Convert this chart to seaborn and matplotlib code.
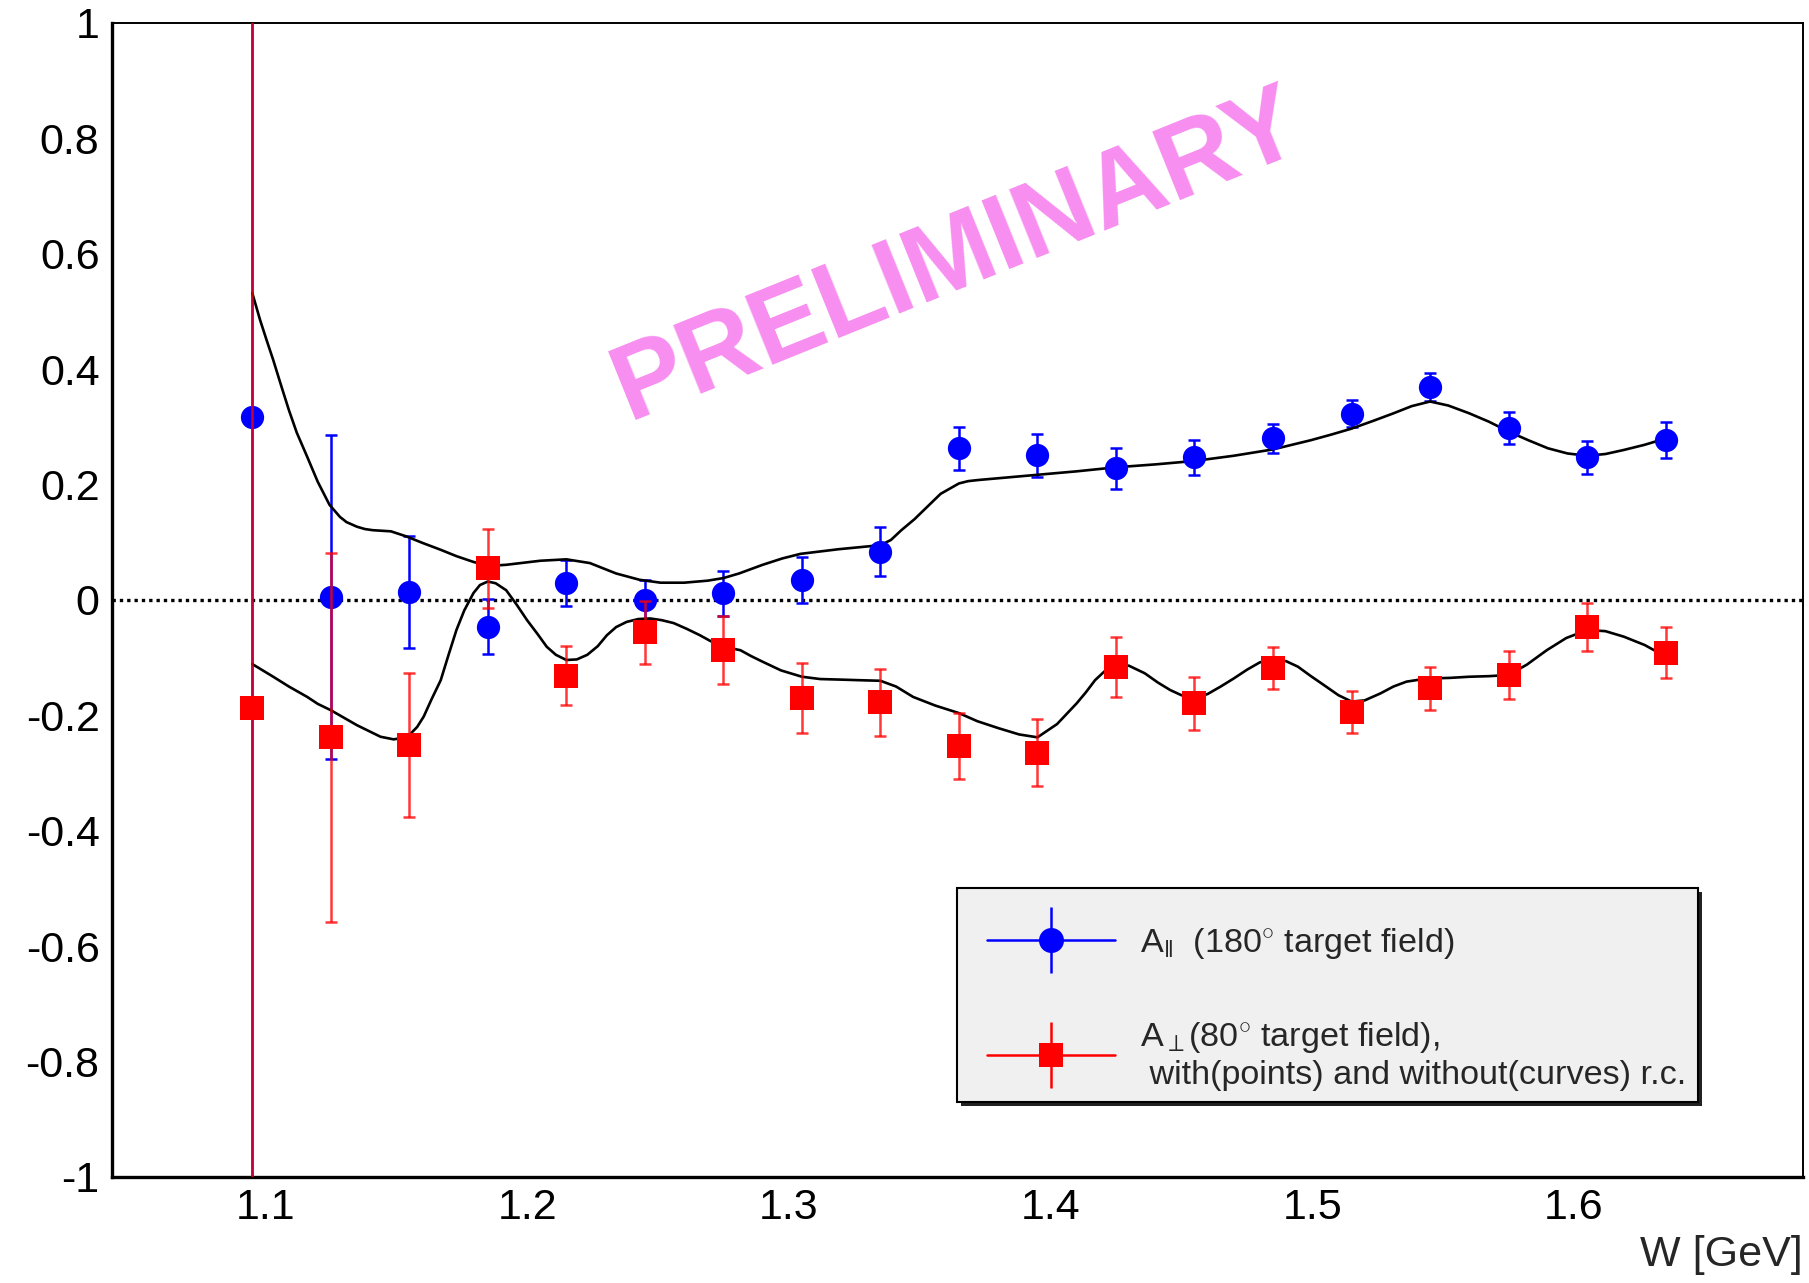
import numpy as np
import pandas as pd
import matplotlib
matplotlib.use("Agg")
import matplotlib.pyplot as plt
from matplotlib.lines import Line2D
from matplotlib.patches import Rectangle
from matplotlib.legend_handler import HandlerTuple
from matplotlib.ticker import FixedLocator, MultipleLocator, FuncFormatter
import seaborn as sns

# ---------------- data ----------------
W = [1.095, 1.125, 1.155, 1.185, 1.215, 1.245, 1.275, 1.305, 1.335, 1.365,
     1.395, 1.425, 1.455, 1.485, 1.515, 1.545, 1.575, 1.605, 1.635]

A_par = [0.318, 0.005, 0.014, -0.046, 0.029, 0.000, 0.012, 0.035, 0.084, 0.263,
         0.251, 0.228, 0.247, 0.280, 0.323, 0.369, 0.298, 0.247, 0.277]
A_par_err = [1.5, 0.281, 0.097, 0.048, 0.040, 0.035, 0.039, 0.040, 0.043, 0.037,
             0.037, 0.035, 0.030, 0.025, 0.024, 0.024, 0.027, 0.029, 0.031]

A_perp = [-0.188, -0.238, -0.251, 0.055, -0.131, -0.056, -0.087, -0.170, -0.177, -0.253,
          -0.265, -0.116, -0.179, -0.118, -0.194, -0.153, -0.130, -0.047, -0.091]
A_perp_err = [1.5, 0.320, 0.125, 0.068, 0.051, 0.055, 0.059, 0.060, 0.058, 0.058,
              0.058, 0.052, 0.046, 0.037, 0.036, 0.037, 0.042, 0.041, 0.045]

# curves without radiative corrections
curve_par_W = [1.095, 1.098, 1.1005, 1.103, 1.106, 1.109, 1.112, 1.116, 1.120, 1.1245,
               1.1285, 1.131, 1.135, 1.138, 1.141, 1.148, 1.154, 1.160, 1.167, 1.173,
               1.1795, 1.185, 1.192, 1.205, 1.215, 1.224, 1.234, 1.243, 1.251, 1.260,
               1.269, 1.275, 1.281, 1.290, 1.2975, 1.3045, 1.319, 1.335, 1.339, 1.343,
               1.348, 1.353, 1.358, 1.365, 1.3685, 1.3725, 1.380, 1.395, 1.410, 1.425,
               1.440, 1.455, 1.470, 1.485, 1.4995, 1.5075, 1.515, 1.523, 1.531, 1.538,
               1.545, 1.552, 1.560, 1.5675, 1.575, 1.5825, 1.590, 1.5975, 1.605, 1.612,
               1.619, 1.627, 1.635]
curve_par_A = [0.532, 0.485, 0.450, 0.416, 0.372, 0.329, 0.290, 0.248, 0.205, 0.165,
               0.144, 0.135, 0.127, 0.123, 0.121, 0.119, 0.110, 0.099, 0.087, 0.076,
               0.066, 0.059, 0.061, 0.068, 0.0705, 0.064, 0.046, 0.035, 0.030, 0.030,
               0.0335, 0.038, 0.046, 0.061, 0.072, 0.080, 0.088, 0.095, 0.104, 0.121,
               0.140, 0.162, 0.184, 0.202, 0.206, 0.208, 0.211, 0.217, 0.223, 0.230,
               0.235, 0.241, 0.250, 0.261, 0.277, 0.287, 0.297, 0.310, 0.3235, 0.336,
               0.344, 0.337, 0.3235, 0.309, 0.292, 0.277, 0.263, 0.254, 0.250, 0.253,
               0.260, 0.269, 0.280]

curve_perp_W = [1.095, 1.099, 1.103, 1.109, 1.116, 1.120, 1.125, 1.130, 1.135, 1.144,
                1.149, 1.1525, 1.155, 1.158, 1.1605, 1.1635, 1.167, 1.170, 1.173, 1.176,
                1.1795, 1.182, 1.185, 1.188, 1.192, 1.196, 1.200, 1.204, 1.2075, 1.211,
                1.215, 1.219, 1.223, 1.227, 1.2305, 1.234, 1.238, 1.2425, 1.247, 1.2515,
                1.256, 1.261, 1.266, 1.270, 1.275, 1.2815, 1.2855, 1.290, 1.297, 1.305,
                1.312, 1.320, 1.327, 1.335, 1.341, 1.3475, 1.356, 1.365, 1.372, 1.380,
                1.388, 1.395, 1.4025, 1.410, 1.4135, 1.417, 1.421, 1.425, 1.430, 1.436,
                1.441, 1.4457, 1.450, 1.455, 1.460, 1.465, 1.470, 1.475, 1.480, 1.485,
                1.490, 1.4945, 1.4995, 1.5043, 1.510, 1.515, 1.520, 1.526, 1.531, 1.536,
                1.541, 1.545, 1.5525, 1.560, 1.5675, 1.575, 1.582, 1.5896, 1.597, 1.605,
                1.612, 1.619, 1.627, 1.635]
curve_perp_A = [-0.111, -0.122, -0.133, -0.150, -0.168, -0.180, -0.191, -0.204, -0.217, -0.237,
                -0.2415, -0.239, -0.234, -0.220, -0.202, -0.172, -0.139, -0.095, -0.052, -0.018,
                0.012, 0.026, 0.032, 0.029, 0.017, -0.008, -0.035, -0.059, -0.081, -0.095,
                -0.104, -0.103, -0.095, -0.080, -0.061, -0.047, -0.038, -0.033, -0.032, -0.035,
                -0.040, -0.050, -0.061, -0.071, -0.081, -0.087, -0.097, -0.107, -0.122, -0.133,
                -0.137, -0.138, -0.139, -0.140, -0.150, -0.168, -0.183, -0.196, -0.210, -0.222,
                -0.233, -0.238, -0.215, -0.179, -0.160, -0.139, -0.122, -0.110, -0.114, -0.127,
                -0.143, -0.156, -0.165, -0.170, -0.163, -0.150, -0.136, -0.121, -0.108, -0.104,
                -0.106, -0.1155, -0.132, -0.147, -0.165, -0.176, -0.174, -0.162, -0.150, -0.1415,
                -0.138, -0.136, -0.135, -0.133, -0.132, -0.130, -0.112, -0.087, -0.066, -0.052,
                -0.054, -0.0635, -0.078, -0.098]

x_major_ticks = [1.1, 1.2, 1.3, 1.4, 1.5, 1.6]
y_major_ticks = [-1.0, -0.8, -0.6, -0.4, -0.2, 0.0, 0.2, 0.4, 0.6, 0.8, 1.0]

legend_labels = [r"A$_{\Vert}$  (180$^{\circ}$ target field)",
                 "A$_{\\perp}$(80$^{\\circ}$ target field),\n with(points) and without(curves) r.c."]
x_label = "W [GeV]"
watermark = "PRELIMINARY"

# ---------------- style ----------------
sns.set_theme(style="white")
plt.rcParams['font.family'] = ['Liberation Sans', 'DejaVu Sans']
plt.rcParams['axes.unicode_minus'] = False
plt.rcParams['mathtext.fontset'] = 'custom'
plt.rcParams['mathtext.rm'] = 'Liberation Sans'
plt.rcParams['mathtext.it'] = 'Liberation Sans:italic'
plt.rcParams['mathtext.bf'] = 'Liberation Sans:bold'

BLUE = '#0000ff'
RED = '#ff0000'

FW, FH = 1809, 1283
fig = plt.figure(figsize=(FW / 100, FH / 100), dpi=100)
fig.patch.set_facecolor('white')
ax_l, ax_r, ax_t, ax_b = 112, 1803, 23, 1177
ax = fig.add_axes([ax_l / FW, 1 - ax_b / FH, (ax_r - ax_l) / FW, (ax_b - ax_t) / FH])
ax.set_facecolor('white')

# zero line
ax.axhline(0, color='black', lw=2.4, ls=(0, (1, 1.2)), zorder=1.5)

# A_parallel
ax.errorbar(W, A_par, yerr=A_par_err, fmt='none', ecolor=BLUE, elinewidth=1.8,
            capsize=4.3, capthick=1.8, zorder=2)
# curves
sns.lineplot(x=curve_par_W, y=curve_par_A, color='black', lw=1.9, sort=False,
             estimator=None, ax=ax, zorder=3, solid_joinstyle='round')
sns.lineplot(x=curve_perp_W, y=curve_perp_A, color='black', lw=1.9, sort=False,
             estimator=None, ax=ax, zorder=3, solid_joinstyle='round')
sns.scatterplot(x=W, y=A_par, marker='o', s=280, color=BLUE, linewidth=0, ax=ax, zorder=4)
# A_perp
ax.errorbar(W, A_perp, yerr=A_perp_err, fmt='none', ecolor=(1, 0, 0, 0.78), elinewidth=1.8,
            capsize=4.3, capthick=1.8, zorder=5)
sns.scatterplot(x=W, y=A_perp, marker='s', s=280, color=RED, linewidth=0, ax=ax, zorder=6)

# axes
ax.set_xlim(1.0414, 1.6875)
ax.set_ylim(-1, 1)
ax.xaxis.set_major_locator(FixedLocator(x_major_ticks))
ax.xaxis.set_minor_locator(MultipleLocator(0.02))
ax.yaxis.set_major_locator(FixedLocator(y_major_ticks))
ax.yaxis.set_minor_locator(MultipleLocator(0.05))
fmt = FuncFormatter(lambda v, p: f"{v:g}")
ax.xaxis.set_major_formatter(fmt)
ax.yaxis.set_major_formatter(fmt)
ax.tick_params(axis='both', which='both', direction='in', top=False, right=False,
               colors='black', labelsize=31, width=2.0)
ax.tick_params(axis='y', which='major', length=35, pad=9)
ax.tick_params(axis='y', which='minor', length=18)
ax.tick_params(axis='x', which='major', length=24.5, pad=8)
ax.tick_params(axis='x', which='minor', length=13.7)
for side in ['left', 'bottom']:
    ax.spines[side].set_linewidth(2.4)
for side in ['top', 'right']:
    ax.spines[side].set_linewidth(1.4)
for s in ax.spines.values():
    s.set_color('black')
ax.set_xlabel(x_label, loc='right', fontsize=31, labelpad=5)
ax.set_ylabel('')

# legend frame
fx0, fx1, fy0, fy1 = 957, 1698, 888, 1102
shadow = Rectangle(((fx0 + 4) / FW, 1 - (fy1 + 4) / FH), (fx1 - fx0) / FW, (fy1 - fy0) / FH,
                   transform=fig.transFigure, facecolor='#222222', edgecolor='none',
                   zorder=9, clip_on=False)
frame = Rectangle((fx0 / FW, 1 - fy1 / FH), (fx1 - fx0) / FW, (fy1 - fy0) / FH,
                  transform=fig.transFigure, facecolor='#f0f0f0', edgecolor='black',
                  lw=1.5, zorder=10, clip_on=False)
ax.add_patch(shadow)
ax.add_patch(frame)

def make_handle(color, marker, ms):
    return (Line2D([0], [0], color=color, lw=1.8),
            Line2D([0], [0], color=color, marker='|', ms=47, mew=1.8, ls='none'),
            Line2D([0], [0], color=color, marker=marker, ms=ms, mew=0, ls='none'))

handles = [make_handle(BLUE, 'o', 18), make_handle(RED, 's', 17)]
leg = ax.legend(handles=handles, labels=legend_labels,
                handler_map={tuple: HandlerTuple(ndivide=1, pad=0)},
                loc='upper left', bbox_to_anchor=(987 / FW, 1 - 926 / FH),
                bbox_transform=fig.transFigure, frameon=False, fontsize=24.6,
                handlelength=3.75, handletextpad=0.72, labelspacing=1.72,
                borderpad=0, borderaxespad=0)
leg.set_zorder(11)

# watermark
fig.text(958 / FW, 1 - 257 / FH, watermark, color='#f78ef0', fontsize=77,
         fontweight='bold', rotation=22, ha='center', va='center',
         rotation_mode='anchor', family=['Liberation Sans', 'DejaVu Sans'])

fig.savefig('out.png', dpi=100)
